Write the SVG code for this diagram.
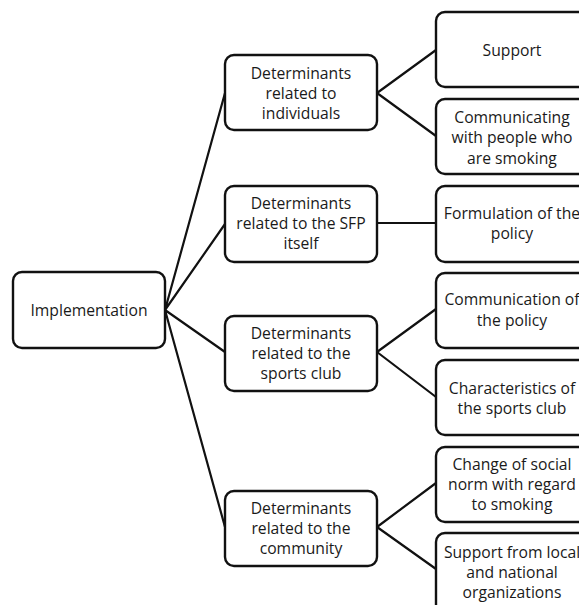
<svg xmlns="http://www.w3.org/2000/svg" width="579" height="605" viewBox="0 0 579 605">
<style>
.box{fill:#fff;stroke:#111;stroke-width:2.4}
.t{font-family:"Open Sans","Noto Sans",sans-serif;font-size:15.7px;fill:#1a1a1a;text-anchor:middle}
.c{stroke:#111;stroke-width:2.2;fill:none}
</style>
<rect width="579" height="605" fill="#fff"/>
<g id="connectors">
<path class="c" d="M165,310 L225,93 M165,310 L225,224 M165,310 L225,352 M165,310 L225,527"/>
<path class="c" d="M377,93 L436,50 M377,93 L436,136"/>
<path class="c" d="M377,223 L436,223"/>
<path class="c" d="M377,352 L436,309 M377,352 L436,397"/>
<path class="c" d="M377,527 L436,483 M377,527 L436,569"/>
</g>
<g id="implementation"><rect class="box" x="13" y="272" width="152" height="76" rx="9"/><text class="t" x="89" y="315.5">Implementation</text></g>
<g id="det-individuals"><rect class="box" x="225" y="55" width="152" height="75" rx="9"/><text class="t" x="301" y="78.5">Determinants</text><text class="t" x="301" y="98.5">related to</text><text class="t" x="301" y="118.5">individuals</text></g>
<g id="det-sfp"><rect class="box" x="225" y="186" width="152" height="76" rx="9"/><text class="t" x="301" y="208.5">Determinants</text><text class="t" x="301" y="228.5">related to the SFP</text><text class="t" x="301" y="248.5">itself</text></g>
<g id="det-club"><rect class="box" x="225" y="316" width="152" height="75" rx="9"/><text class="t" x="301" y="338.5">Determinants</text><text class="t" x="301" y="358.5">related to the</text><text class="t" x="301" y="378.5">sports club</text></g>
<g id="det-community"><rect class="box" x="225" y="491" width="152" height="75" rx="9"/><text class="t" x="301" y="513.5">Determinants</text><text class="t" x="301" y="533.5">related to the</text><text class="t" x="301" y="553.5">community</text></g>
<g id="support"><rect class="box" x="436" y="12" width="152" height="75" rx="9"/><text class="t" x="512" y="55.5">Support</text></g>
<g id="communicating"><rect class="box" x="436" y="99" width="152" height="75" rx="9"/><text class="t" x="512" y="122.5">Communicating</text><text class="t" x="512" y="142.5">with people who</text><text class="t" x="512" y="163.5">are smoking</text></g>
<g id="formulation"><rect class="box" x="436" y="186" width="152" height="76" rx="9"/><text class="t" x="512" y="218.5">Formulation of the</text><text class="t" x="512" y="238.5">policy</text></g>
<g id="communication"><rect class="box" x="436" y="273" width="152" height="75" rx="9"/><text class="t" x="512" y="304.5">Communication of</text><text class="t" x="512" y="325.5">the policy</text></g>
<g id="characteristics"><rect class="box" x="436" y="360" width="152" height="75" rx="9"/><text class="t" x="512" y="393.5">Characteristics of</text><text class="t" x="512" y="413.5">the sports club</text></g>
<g id="social-norm"><rect class="box" x="436" y="447" width="152" height="75" rx="9"/><text class="t" x="512" y="470">Change of social</text><text class="t" x="512" y="490">norm with regard</text><text class="t" x="512" y="510">to smoking</text></g>
<g id="support-orgs"><rect class="box" x="436" y="533" width="152" height="80" rx="9"/><text class="t" x="512" y="557.5">Support from local</text><text class="t" x="512" y="577.5">and national</text><text class="t" x="512" y="597.5">organizations</text></g>
</svg>
